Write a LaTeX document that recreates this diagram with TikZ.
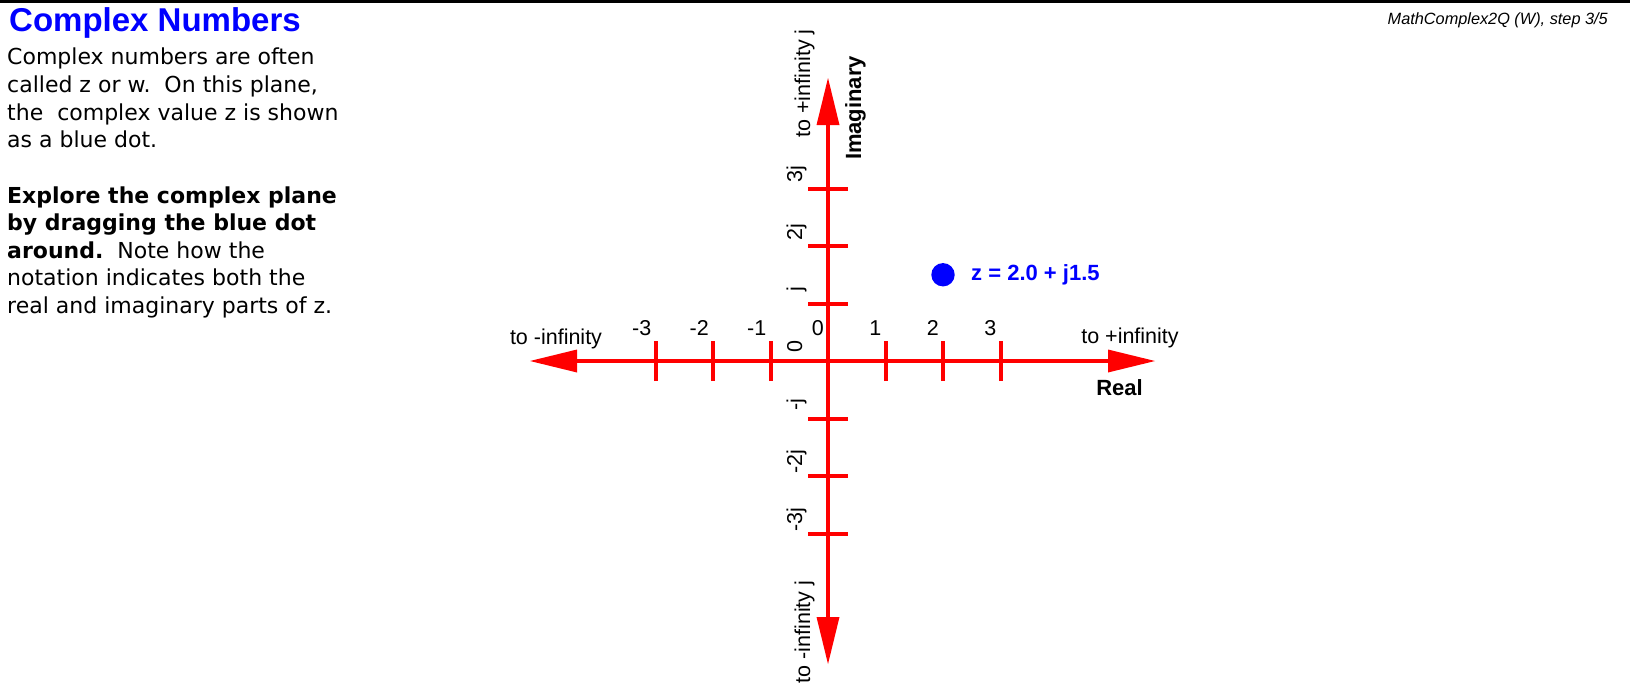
\documentclass[tikz,border=0pt]{standalone}
\usepackage{fontspec}
\setmainfont{Liberation Sans}
\newfontfamily\verdana{DejaVu Sans}
\usetikzlibrary{arrows.meta}
\newcommand\lblsize{\fontsize{21.5}{25}\selectfont}
\newcommand\boldsize{\fontsize{22}{26}\selectfont}
\tikzset{
  axisline/.style={red, line width=4pt},
  tickmark/.style={red, line width=4pt},
  ticklbl/.style={font=\lblsize, inner sep=0pt},
  boldlbl/.style={font=\boldsize\bfseries, inner sep=0pt},
  bodyline/.style={font=\verdana\fontsize{22}{27.6}\selectfont, anchor=base west, inner sep=0pt},
}
\begin{document}
\begin{tikzpicture}[x=1pt, y=-1pt, >={Triangle[length=47pt, width=23pt, line width=0pt]}]
  % 1px = 1pt として描く (y は下向き), 複素平面の原点は (828,361), 単位 57.5px
  \useasboundingbox (0,0) rectangle (1630,685);
  \fill[black] (0,0) rectangle (1630,3.3);
  \node[font=\bfseries\fontsize{33}{38}\selectfont, text=blue, anchor=base west, inner sep=0pt] (title) at (9,31.5) {Complex Numbers};
  \node[font=\itshape\fontsize{16.3}{19}\selectfont, anchor=base east, inner sep=0pt] (step) at (1608,25) {MathComplex2Q (W), step 3/5};
  \node[bodyline] (l1) at (7,65) {Complex numbers are often};
  \node[bodyline] (l2) at (7,92.6) {called z or w.\ \ On this plane,};
  \node[bodyline] (l3) at (7,120.2) {the\ \ complex value z is shown};
  \node[bodyline] (l4) at (7,147.8) {as a blue dot.};
  \node[bodyline] (l5) at (7,203) {\textbf{Explore the complex plane}};
  \node[bodyline] (l6) at (7,230.6) {\textbf{by dragging the blue dot}};
  \node[bodyline] (l7) at (7,258.2) {\textbf{around.}\ \ Note how the};
  \node[bodyline] (l8) at (7,285.8) {notation indicates both the};
  \node[bodyline] (l9) at (7,313.4) {real and imaginary parts of z.};
  % 軸
  \coordinate (xmin) at (530,361);
  \coordinate (xmax) at (1155,361);
  \coordinate (ymax) at (828,78);
  \coordinate (ymin) at (828,664);
  \draw[axisline,<->] (xmin) -- (xmax);
  \draw[axisline,<->] (ymin) -- (ymax);
  \begin{scope}[shift={(828,361)}, x=57.5pt, y=57.5pt]
    \foreach \k/\h/\v [count=\n] in {-3/-3/-3j, -2/-2/-2j, -1/-1/-j, 0/0/0, 1/1/j, 2/2/2j, 3/3/3j} {
      \draw[tickmark] (\k,0) +(0pt,-20pt) -- +(0pt,20pt);
      \draw[tickmark] (0,\k) +(-20pt,0pt) -- +(20pt,0pt);
      \node[ticklbl, anchor=base east] (h\n) at ([xshift=-4pt,yshift=26pt]\k,0) {\h};
      \node[ticklbl, anchor=base, rotate=90] (v\n) at ([xshift=-26pt,yshift=14pt]0,\k) {\v};
    }
    \node[circle, fill=blue, minimum size=23.4pt, inner sep=0pt] (zpt) at (2,1.5) {};
  \end{scope}
  \node[ticklbl, anchor=base] (xminlbl) at ([xshift=26pt,yshift=17pt]xmin) {to -infinity};
  \node[ticklbl, anchor=base] (xmaxlbl) at ([xshift=-25pt,yshift=18pt]xmax) {to +infinity};
  \node[boldlbl, anchor=base] (real) at ([xshift=-35.5pt,yshift=-34pt]xmax) {Real};
  \node[ticklbl, anchor=base, rotate=90] (ymaxlbl) at ([xshift=-18pt,yshift=-5.5pt]ymax) {to +infinity j};
  \node[boldlbl, anchor=base, rotate=90] (imag) at ([xshift=33pt,yshift=-30pt]ymax) {Imaginary};
  \node[ticklbl, anchor=base, rotate=90] (yminlbl) at ([xshift=-18pt,yshift=32pt]ymin) {to -infinity j};
  \node[boldlbl, text=blue, anchor=base west] (zlbl) at ([xshift=28pt,yshift=-6pt]zpt) {z = 2.0 + j1.5};
\end{tikzpicture}
\end{document}
